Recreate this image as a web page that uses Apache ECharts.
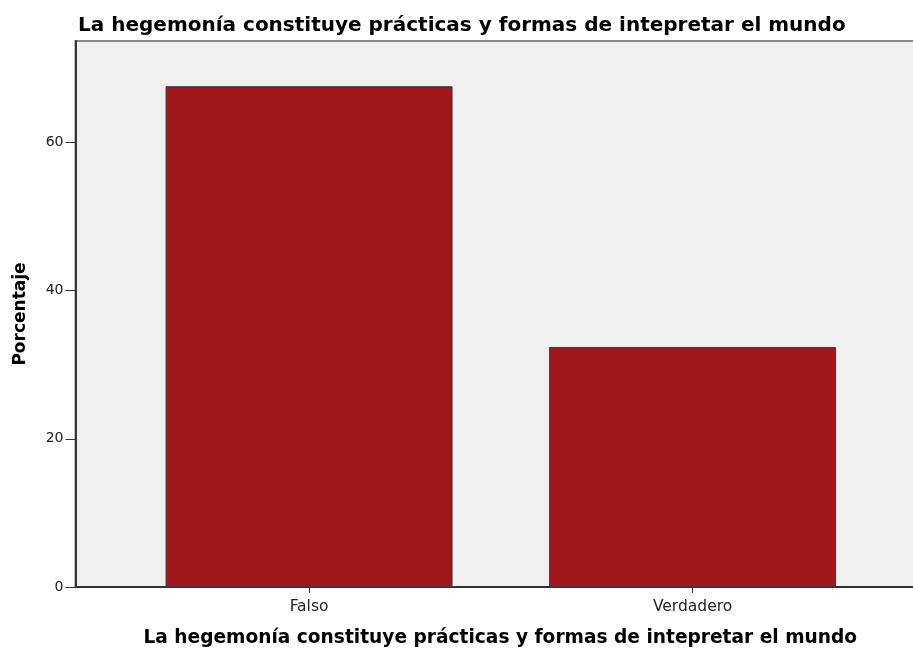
<!DOCTYPE html>
<html>
<head>
<meta charset="utf-8">
<script src="https://cdn.jsdelivr.net/npm/echarts@6/dist/echarts.min.js"></script>
<style>
  html, body { margin: 0; padding: 0; background: #fff; }
  #chart { width: 913px; height: 648px; }
</style>
</head>
<body>
<div id="chart"></div>
<script>
// datos
let categories = ['Falso', 'Verdadero'];
let porcentaje = [67.6, 32.4];
let yTicks = [0, 20, 40, 60];

let chart = echarts.init(document.getElementById('chart'));

let option = {
    backgroundColor: '#fff',
    animation: false,
    title: {
        text: 'La hegemonía constituye prácticas y formas de intepretar el mundo',
        left: 73,
        top: 11,
        textStyle: { fontFamily: 'DejaVu Sans', fontSize: 20, fontWeight: 'bold', color: '#000' }
    },
    grid: {
        left: 75.5,
        right: -2,
        top: 41,
        bottom: 61,
        outerBoundsMode: 'none',
        show: true,
        backgroundColor: '#f0f0f0',
        borderColor: '#8a8a8a',
        borderWidth: 2
    },
    xAxis: {
        type: 'value',
        min: 0.391,
        max: 2.58,
        name: 'La hegemonía constituye prácticas y formas de intepretar el mundo',
        nameLocation: 'middle',
        nameGap: 42,
        nameTextStyle: { fontFamily: 'DejaVu Sans', fontSize: 18.6, fontWeight: 'bold', color: '#000', padding: [0, 0, 0, 10] },
        splitLine: { show: false },
        axisLine: { show: true, onZero: false, lineStyle: { color: '#333', width: 2 } },
        axisTick: { show: true, customValues: [1, 2], length: 6, lineStyle: { color: '#333', width: 1 } },
        axisLabel: {
            customValues: [1, 2],
            margin: 12,
            fontFamily: 'DejaVu Sans',
            fontSize: 15.5,
            color: '#222',
            formatter: function (v) { return categories[Math.round(v) - 1] || ''; }
        }
    },
    yAxis: {
        type: 'value',
        min: 0,
        max: 73.7,
        name: 'Porcentaje',
        nameLocation: 'middle',
        nameGap: 46,
        nameTextStyle: { fontFamily: 'DejaVu Sans', fontSize: 17, fontWeight: 'bold', color: '#000' },
        splitLine: { show: false },
        axisLine: { show: true, lineStyle: { color: '#333', width: 2 } },
        axisTick: { show: true, inside: false, customValues: yTicks, length: 10, lineStyle: { color: '#333', width: 1 } },
        axisLabel: {
            customValues: yTicks,
            margin: 12,
            fontFamily: 'DejaVu Sans',
            fontSize: 14,
            color: '#222'
        }
    },
    series: [
        {
            type: 'bar',
            barWidth: 287,
            data: porcentaje.map((v, i) => [i + 1, v]),
            itemStyle: { color: '#a1161a', borderColor: '#3c3c3c', borderWidth: 1 }
        }
    ]
};

chart.setOption(option);
</script>
</body>
</html>
